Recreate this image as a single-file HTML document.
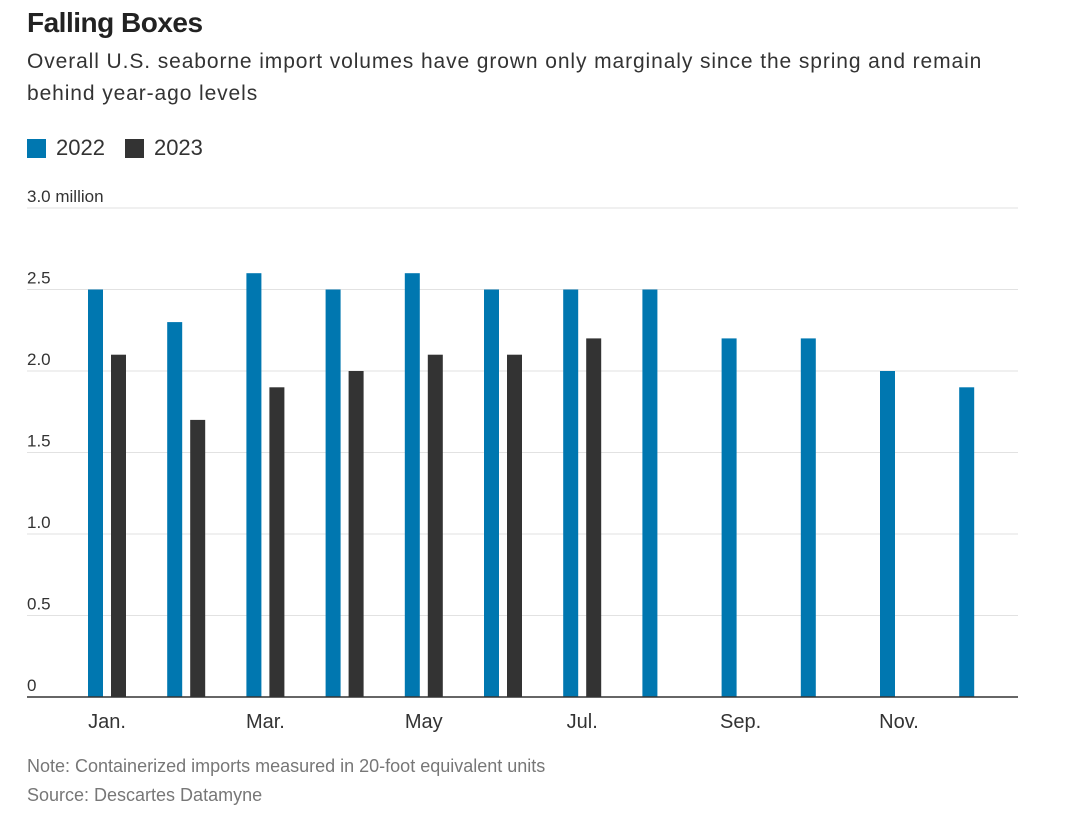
<!DOCTYPE html>
<html><head><meta charset="utf-8"><style>
body{margin:0;background:#fff;width:1070px;height:836px;overflow:hidden;font-family:"Liberation Sans",sans-serif;}
.t{position:absolute;left:27px;}
</style></head><body>
<div class="t" style="top:7px;font-size:28px;font-weight:bold;color:#222;letter-spacing:-0.5px">Falling Boxes</div>
<div class="t" style="top:46px;font-size:21px;line-height:32px;color:#333;width:1000px;letter-spacing:0.9px">Overall U.S. seaborne import volumes have grown only marginaly since the spring and remain behind year-ago levels</div>
<div class="t" style="top:135px;font-size:22px;color:#333;display:flex;align-items:center">
<span style="display:flex;align-items:center"><span style="display:inline-block;width:19px;height:19px;background:#0077b0;margin-right:10px"></span>2022</span>
<span style="display:flex;align-items:center;margin-left:20px"><span style="display:inline-block;width:19px;height:19px;background:#333;margin-right:10px"></span>2023</span>
</div>
<svg id="chart" style="position:absolute;left:0;top:0" width="1070" height="836"></svg>
<div class="t" style="top:756px;font-size:18px;color:#777">Note: Containerized imports measured in 20-foot equivalent units</div>
<div class="t" style="top:785px;font-size:18px;color:#777">Source: Descartes Datamyne</div>
<script>
const months=["Jan.","Feb.","Mar.","Apr.","May","Jun.","Jul.","Aug.","Sep.","Oct.","Nov.","Dec."];
const monthLabels=["Jan.","","Mar.","","May","","Jul.","","Sep.","","Nov.",""];
const values2022=[2.5,2.3,2.6,2.5,2.6,2.5,2.5,2.5,2.2,2.2,2.0,1.9];
const values2023=[2.1,1.7,1.9,2.0,2.1,2.1,2.2];
const ticks=[0,0.5,1.0,1.5,2.0,2.5,3.0];
const tickLabels=["0","0.5","1.0","1.5","2.0","2.5","3.0 million"];
const svg=document.getElementById('chart');const NS='http://www.w3.org/2000/svg';
const y=v=>697-v*163;
const x=i=>107+i*79.2;
function mk(t,a){const e=document.createElementNS(NS,t);for(const k in a)e.setAttribute(k,a[k]);svg.appendChild(e);return e;}
ticks.forEach((v,i)=>{
 if(v>0){const g=mk('line',{x1:27,x2:1018,y1:y(v),y2:y(v),stroke:'#e2e2e2','stroke-width':1});
 
 }
 const t=mk('text',{x:27,y:y(v)-6,'font-size':17,fill:'#333','font-family':'Liberation Sans, sans-serif'});
 t.textContent=tickLabels[i];
 
 
});
values2022.forEach((v,i)=>{const r=mk('rect',{x:x(i)-19,y:y(v),width:15,height:697-y(v),fill:'#0077b0'});
 
 });
values2023.forEach((v,i)=>{const r=mk('rect',{x:x(i)+4,y:y(v),width:15,height:697-y(v),fill:'#333'});
 
 });
const ax=mk('line',{x1:27,x2:1018,y1:697,y2:697,stroke:'#333','stroke-width':1.5});


monthLabels.forEach((m,i)=>{if(!m)return;const t=mk('text',{x:x(i),y:728,'font-size':20,fill:'#333','text-anchor':'middle','font-family':'Liberation Sans, sans-serif'});t.textContent=m;
 
 });
</script>
</body></html>
